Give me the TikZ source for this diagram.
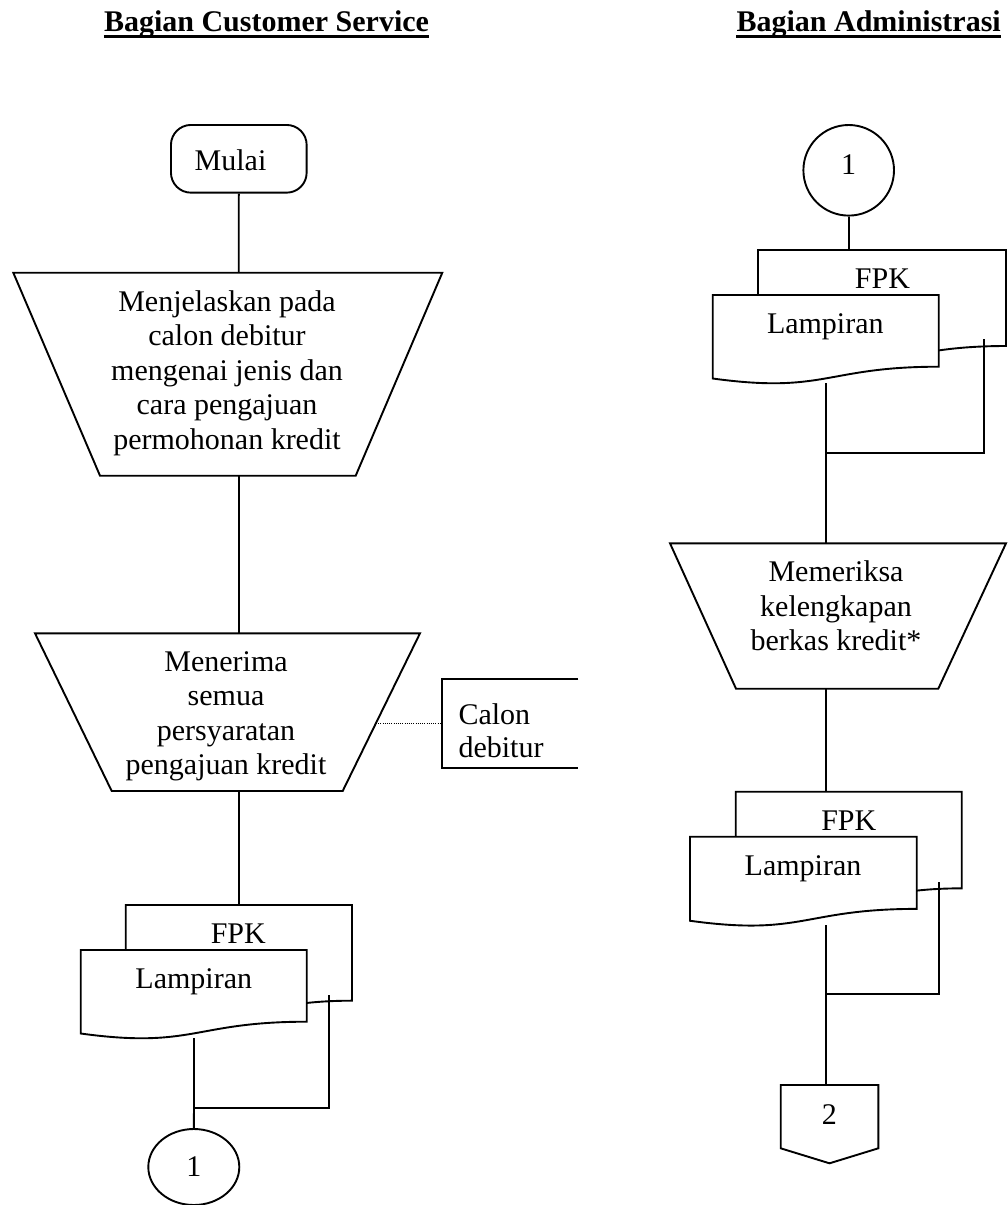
\documentclass[tikz,border=0pt]{standalone}
\usepackage{fontspec}
\setmainfont{Liberation Serif}
\usetikzlibrary{shapes.geometric,calc}

% Document symbol: #1 name, #2 left, #3 top, #4 width, #5 height
\newcommand\docshape[5]{%
  \pgfmathsetmacro\docR{#2+#4}%
  \pgfmathsetmacro\docM{#2+#4/2}%
  \pgfmathsetmacro\docYR{#3+0.802*#5}%
  \pgfmathsetmacro\docYC{#3+1.1075*#5}%
  \pgfmathsetmacro\docYL{#3+0.934*#5}%
  \draw[shapeline, fill=white] (#2,#3) coordinate (#1-nw) -- (\docR,#3) coordinate (#1-ne)
    -- (\docR,\docYR) .. controls (\docM,\docYR) and (\docM,\docYC) .. (#2,\docYL) -- cycle;
}

\begin{document}
\begin{tikzpicture}[x=1pt,y=-1pt,
  shapeline/.style={line width=1.9pt, line join=miter},
  conn/.style={line width=1.9pt},
  txt/.style={inner sep=0pt, font=\fontsize{30}{34.5}\selectfont},
  multi/.style={txt, align=center, anchor=base},
  head/.style={inner sep=0pt, font=\fontsize{30}{34.5}\selectfont\bfseries, anchor=base},
  note/.style={line width=1pt, dash pattern=on 1pt off 1.2pt}]

\useasboundingbox[fill=white] (0,0) rectangle (1007,1205);

% ---------- column headings ----------
\node[head] (hcs) at (266.5,31.7) {Bagian Customer Service};
\node[head] (hadm) at (868.7,31.7) {Bagian Administrasi};
\draw[line width=2.5pt] ($(hcs.base west)+(0,5)$) -- ($(hcs.base east)+(0,5)$);
\draw[line width=2.5pt] ($(hadm.base west)+(0,5)$) -- ($(hadm.base east)+(0,5)$);

% ---------- Bagian Customer Service ----------
\node[draw, shapeline, rounded corners=20pt, minimum width=135.7pt, minimum height=67.7pt, inner sep=0pt] (mulai) at (238.8,158.8) {};
\node[txt, anchor=base] (mulaiT) at (230.5,170) {Mulai};

% manual operation 1 (text anchored on its last line)
\draw[shapeline] (13.3,272.7) -- (442.3,272.7) -- (355.7,475.7) -- (100,475.7) -- cycle;
\coordinate (t1top) at (238.7,272.7);
\coordinate (t1bot) at (238.7,475.7);
\node[multi] (t1T) at (227,449) {Menjelaskan pada\\calon debitur\\mengenai jenis dan\\cara pengajuan\\permohonan kredit};

% manual operation 2
\draw[shapeline] (35,633.3) -- (420,633.3) -- (342.7,791) -- (111.7,791) -- cycle;
\coordinate (t2top) at (238.7,633.3);
\coordinate (t2bot) at (238.7,791);
\coordinate (t2r) at (376,723.3);
\node[multi] (t2T) at (226,774.5) {Menerima\\semua\\persyaratan\\pengajuan kredit};

% annotation
\draw[shapeline] (578.3,679.3) -- (441.7,679.3) -- (441.7,768.3) -- (578.3,768.3);
\coordinate (annw) at (441.7,723.3);
\node[txt, align=left, anchor=base west] (annT) at (458.3,757.3) {Calon\\[-1.2pt]debitur};
\draw[note] (t2r) -- (annw);

% documents FPK / Lampiran
\docshape{bdL}{125.7}{905}{226.3}{119.3}
\docshape{fdL}{80.7}{950}{226}{89.4}
\node[txt, anchor=base] (fpkL) at (238.3,943.3) {FPK};
\node[txt, anchor=base] (lampL) at (193.8,988.3) {Lampiran};
\coordinate (bdLtop) at (238.7,905);
\coordinate (fdLbot) at (194,1038);
\coordinate (jL) at (194,1108.3);
\coordinate (jLr) at (329.3,1108.3);
\coordinate (bdLin) at (329.3,995);

% connector 1
\node[ellipse, draw, shapeline, minimum width=91pt, minimum height=76pt, inner sep=0pt] (offL) at (193.8,1167) {};
\node[txt] (offLT) at (193.8,1167) {1};

\draw[conn] (mulai.south) -- (t1top);
\draw[conn] (t1bot) -- (t2top);
\draw[conn] (t2bot) -- (bdLtop);
\draw[conn] (fdLbot) -- (jL) -- (offL.north);
\draw[conn] (jL) -- (jLr) -- (bdLin);

% ---------- Bagian Administrasi ----------
\node[circle, draw, shapeline, minimum size=90.6pt, inner sep=0pt] (onR) at (848.7,170.3) {};
\node[txt, anchor=base] (onRT) at (848.7,174) {1};

\docshape{bdR}{758}{250}{248}{119.7}
\docshape{fdR}{712.7}{295}{226}{89.4}
\node[txt, anchor=base] (fpkR) at (882.5,288.3) {FPK};
\node[txt, anchor=base] (lampR) at (825.3,333.3) {Lampiran};
\coordinate (bdRtop) at (848.7,250);
\coordinate (fdRbot) at (825.7,383);
\coordinate (jR) at (825.7,452.7);
\coordinate (jRr) at (984,452.7);
\coordinate (bdRin) at (984,339.3);

% manual operation 3
\draw[shapeline] (670,543.3) -- (1006,543.3) -- (938.3,688.7) -- (736,688.7) -- cycle;
\coordinate (t3top) at (825.7,543.3);
\coordinate (t3bot) at (825.7,688.7);
\node[multi] (t3T) at (836,650.5) {Memeriksa\\kelengkapan\\berkas kredit*};

\docshape{bdS}{735.7}{791.7}{226}{120.5}
\docshape{fdS}{690}{836.7}{226.7}{90}
\node[txt, anchor=base] (fpkS) at (848.8,830) {FPK};
\node[txt, anchor=base] (lampS) at (803,875) {Lampiran};
\coordinate (bdStop) at (825.7,791.7);
\coordinate (fdSbot) at (826,925);
\coordinate (jS) at (826,994.3);
\coordinate (jSr) at (938.7,994.3);
\coordinate (bdSin) at (938.7,881.7);

% off-page connector 2
\draw[shapeline] (780.7,1085) -- (878.3,1085) -- (878.3,1148.3) -- (829.5,1163.3) -- (780.7,1148.3) -- cycle;
\coordinate (pgtop) at (826,1085);
\node[txt, anchor=base] (pgT) at (829.3,1124) {2};

\draw[conn] (onR.south) -- (bdRtop);
\draw[conn] (fdRbot) -- (jR) -- (t3top);
\draw[conn] (jR) -- (jRr) -- (bdRin);
\draw[conn] (t3bot) -- (bdStop);
\draw[conn] (fdSbot) -- (jS) -- (pgtop);
\draw[conn] (jS) -- (jSr) -- (bdSin);

\end{tikzpicture}
\end{document}
